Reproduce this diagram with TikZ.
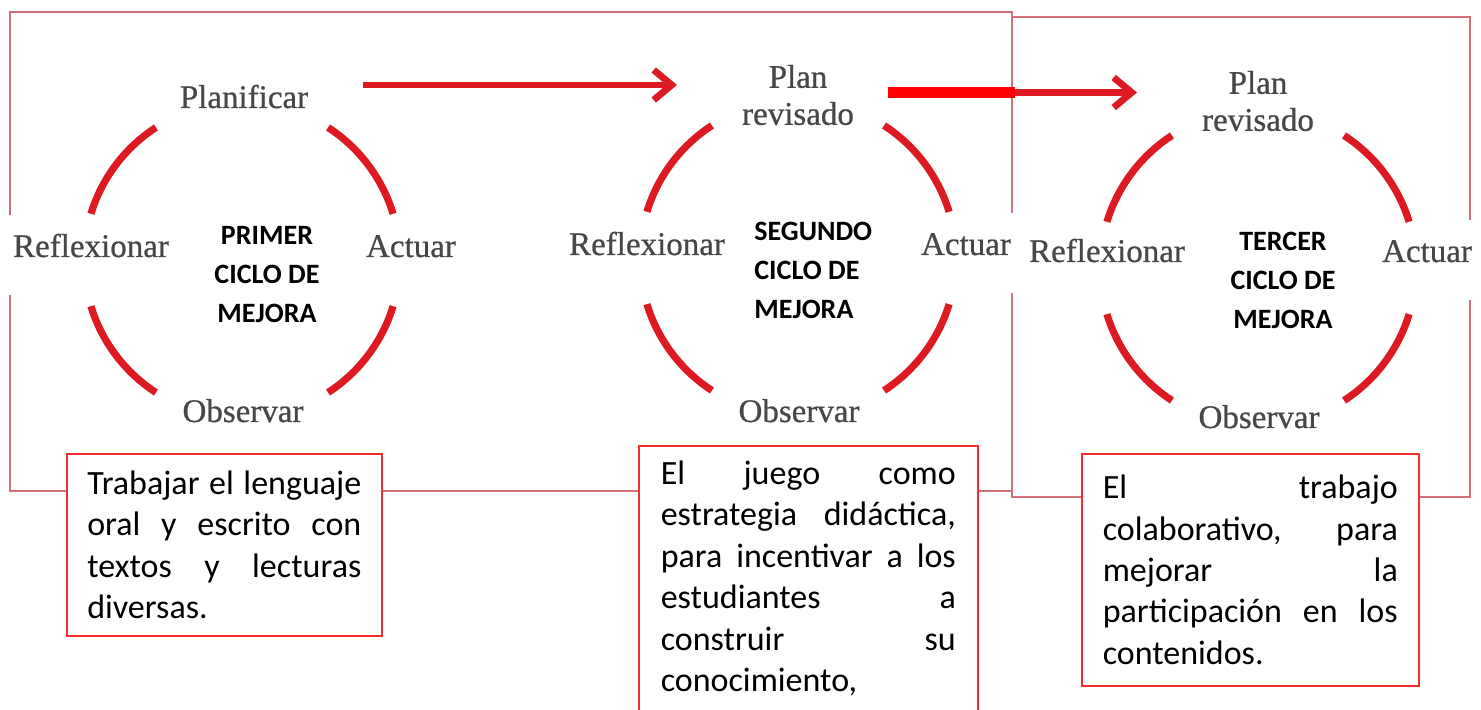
\documentclass[tikz,border=0pt]{standalone}
\usepackage{fontspec}
\setmainfont{Liberation Serif}
\newfontfamily\stepfont[FakeBold=0.7]{Liberation Serif}
\newfontfamily\notefont{Carlito}
\usetikzlibrary{arrows.meta}
\definecolor{ringred}{RGB}{221,26,34}
\definecolor{framered}{RGB}{212,112,122}
\definecolor{notered}{RGB}{246,44,48}
\definecolor{barred}{RGB}{255,0,0}
\def\ringarc[#1](#2)(#3:#4:#5){\draw[#1] (#2) ++(#3:#5) arc (#3:#4:#5);}

\begin{document}
\begin{tikzpicture}[x=0.5pt, y=-0.5pt,
	lbl/.style={font=\stepfont\fontsize{16.5pt}{18.5pt}\selectfont, text=black!72, fill=white, inner xsep=6pt, align=center},
	side/.style={lbl, text height=12pt, text depth=10pt, inner ysep=9pt},
	cyclename/.style={font=\notefont\bfseries\fontsize{14pt}{19.5pt}\selectfont, inner sep=0pt},
	ring/.style={ringred, line width=3.6pt},
	boxframe/.style={framered, line width=1.3pt},
	note/.style={draw=notered, line width=0.8pt, fill=white, anchor=north west, align=justify, inner ysep=8.5pt,
		font=\notefont\fontsize{17pt}{20.7pt}\selectfont,
		execute at begin node={\tolerance=10000\relax\hyphenpenalty=10000\relax}},
	advance/.style={ringred, line width=3.4pt, -{Straight Barb[length=9pt, width=15pt]}}]
		
		\useasboundingbox (0,0) rectangle (1481,710);
		
		%%%%% START %%%%%
		
		\draw[boxframe] (10,12) rectangle (1012,491);
		\draw[boxframe] (1012,17) rectangle (1470,497);
		
		% first cycle
		\node[lbl, anchor=base] (plan1) at (244,108) {Planificar};
		\node[side, anchor=base] (ref1) at (91,257) {Reflexionar};
		\node[side, anchor=base] (act1) at (411,257) {Actuar};
		\node[lbl, anchor=base] (obs1) at (243,422) {Observar};
		\node[cyclename, align=center] (mid1) at (267,275) {PRIMER\\CICLO DE\\MEJORA};
		
		\ringarc[ring](242,260)(17:57:158)
		\ringarc[ring](242,260)(123:163:158)
		\ringarc[ring](242,260)(197:237:158)
		\ringarc[ring](242,260)(303:343:158)
		
		% second cycle
		\node[lbl] (plan2) at (798,95) {Plan\\revisado};
		\node[side, anchor=base] (ref2) at (647,255) {Reflexionar};
		\node[side, anchor=base] (act2) at (966,255) {Actuar};
		\node[lbl, anchor=base] (obs2) at (799,422) {Observar};
		\node[cyclename, align=left, anchor=west] (mid2) at (754,270) {SEGUNDO\\CICLO DE\\MEJORA};
		
		\ringarc[ring](798,258)(17:57:158)
		\ringarc[ring](798,258)(123:163:158)
		\ringarc[ring](798,258)(197:237:158)
		\ringarc[ring](798,258)(303:343:158)
		
		% third cycle
		\node[lbl] (plan3) at (1258,101) {Plan\\revisado};
		\node[side, anchor=base] (ref3) at (1107,262) {Reflexionar};
		\node[side, anchor=base] (act3) at (1427,262) {Actuar};
		\node[lbl, anchor=base] (obs3) at (1259,428) {Observar};
		\node[cyclename, align=center] (mid3) at (1283,280) {TERCER\\CICLO DE\\MEJORA};
		
		\ringarc[ring](1258,268)(17:57:158)
		\ringarc[ring](1258,268)(123:163:158)
		\ringarc[ring](1258,268)(197:237:158)
		\ringarc[ring](1258,268)(303:343:158)
		
		% arrows between the cycles
		\coordinate (go1) at (363,85);
		\coordinate (go1end) at (677,85);
		\draw[advance] (go1) -- (go1end);
		
		\coordinate (bar1) at (888,92.5);
		\coordinate (bar2) at (1015,92.5);
		\coordinate (go2end) at (1137,92.5);
		\draw[barred, line width=5.5pt] (bar1) -- (bar2);
		\draw[advance] (bar2) -- (go2end);
		
		% notes below
		\node[note, text width=137pt, inner xsep=10.25pt] (note1) at (66,453) {Trabajar el lenguaje\linebreak oral y escrito con\linebreak textos y lecturas\linebreak diversas.};
		\node[note, text width=147.5pt, inner xsep=11pt, inner ysep=7.5pt] (note2) at (638,445) {El juego como\linebreak estrategia didáctica,\linebreak para incentivar a los\linebreak estudiantes a\linebreak construir su\linebreak conocimiento,};
		\node[note, text width=147.5pt, inner xsep=10.5pt, minimum height=116pt] (note3) at (1081,453) {El trabajo\linebreak colaborativo, para\linebreak mejorar la\linebreak participación en los\linebreak contenidos.};
		
		%%%%% END %%%%%
	\end{tikzpicture}
\end{document}
